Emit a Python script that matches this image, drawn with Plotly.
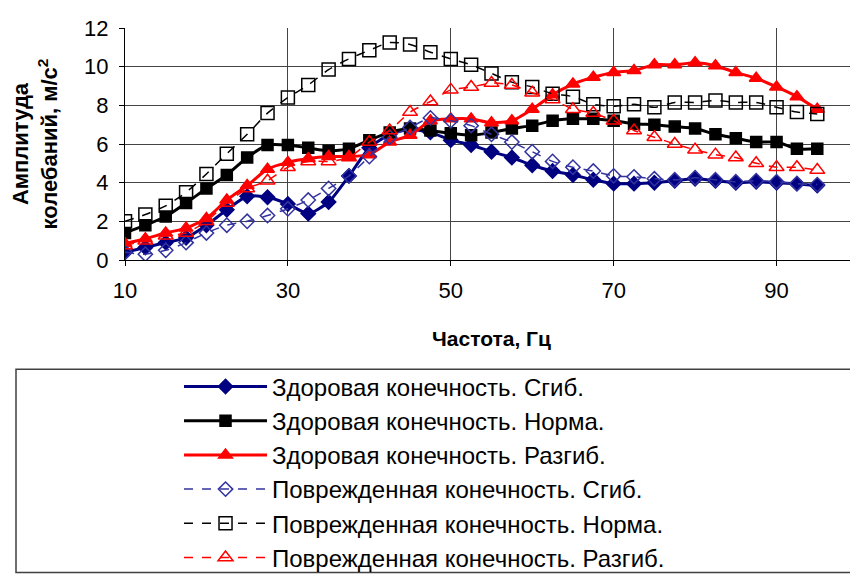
import plotly.graph_objects as go

freq = [10, 12.5, 15, 17.5, 20, 22.5, 25, 27.5, 30, 32.5, 35, 37.5, 40, 42.5, 45, 47.5,
        50, 52.5, 55, 57.5, 60, 62.5, 65, 67.5, 70, 72.5, 75, 77.5, 80, 82.5, 85, 87.5,
        90, 92.5, 95]

healthy_flex = [0.4, 0.65, 0.9, 1.15, 1.8, 2.6, 3.3, 3.25, 2.9, 2.4, 3.0, 4.35, 5.8, 6.5,
                6.75, 6.6, 6.2, 5.95, 5.6, 5.3, 4.9, 4.6, 4.4, 4.15, 3.95, 3.95, 4.0, 4.1,
                4.2, 4.1, 4.0, 4.05, 4.0, 3.95, 3.85]
healthy_norm = [1.4, 1.8, 2.25, 2.95, 3.7, 4.4, 5.3, 5.95, 5.95, 5.8, 5.65, 5.75, 6.2, 6.6,
                6.8, 6.7, 6.55, 6.45, 6.6, 6.8, 6.95, 7.2, 7.3, 7.3, 7.2, 7.05, 7.0, 6.9,
                6.8, 6.5, 6.3, 6.1, 6.1, 5.75, 5.75]
healthy_ext = [0.85, 1.1, 1.4, 1.65, 2.15, 3.1, 3.85, 4.7, 5.05, 5.25, 5.35, 5.35, 5.45,
               6.1, 6.45, 7.2, 7.3, 7.3, 7.1, 7.2, 7.8, 8.55, 9.1, 9.45, 9.7, 9.8, 10.1,
               10.1, 10.2, 10.05, 9.7, 9.4, 8.95, 8.45, 7.8]
damaged_flex = [0.4, 0.3, 0.5, 0.9, 1.4, 1.8, 2.0, 2.3, 2.65, 3.1, 3.7, 4.35, 5.35, 6.35,
                6.85, 7.35, 7.2, 6.95, 6.5, 6.1, 5.6, 5.1, 4.8, 4.6, 4.35, 4.3, 4.2, 4.15,
                4.25, 4.15, 4.05, 4.1, 4.05, 3.95, 3.9]
damaged_norm = [2.0, 2.35, 2.8, 3.5, 4.45, 5.5, 6.5, 7.6, 8.4, 9.05, 9.85, 10.4, 10.85,
                11.25, 11.15, 10.75, 10.4, 10.1, 9.65, 9.2, 8.95, 8.6, 8.45, 8.05, 7.95,
                8.05, 7.9, 8.15, 8.15, 8.25, 8.15, 8.15, 7.9, 7.65, 7.55]
damaged_ext = [0.75, 1.0, 1.25, 1.4, 2.0, 2.95, 3.7, 4.1, 4.8, 5.1, 5.1, 5.3, 6.1, 6.7,
               7.65, 8.2, 8.8, 8.95, 9.15, 9.05, 8.65, 8.3, 7.8, 7.6, 7.2, 6.7, 6.35, 6.0,
               5.7, 5.45, 5.3, 5.0, 4.8, 4.8, 4.65]

names = ["Здоровая конечность. Сгиб.", "Здоровая конечность. Норма.",
         "Здоровая конечность. Разгиб.", "Поврежденная конечность. Сгиб.",
         "Поврежденная конечность. Норма.", "Поврежденная конечность. Разгиб."]

x_ticks = [10, 30, 50, 70, 90]
y_ticks = [0, 2, 4, 6, 8, 10, 12]

series = [
    (healthy_flex, "#000080", "solid", 3, "diamond", 11),
    (healthy_norm, "#000000", "solid", 3, "square", 11),
    (healthy_ext, "#ff0000", "solid", 3, "triangle-up", 12),
    (damaged_flex, "#3333a0", "dash", 1.5, "diamond-open", 11),
    (damaged_norm, "#000000", "dash", 1.5, "square-open", 13),
    (damaged_ext, "#ff0000", "dash", 1.5, "triangle-up-open", 13),
]

fig = go.Figure()
for i, (vals, col, dash, w, sym, sz) in enumerate(series):
    fig.add_trace(go.Scatter(
        x=freq, y=vals, name=names[i], mode="lines+markers",
        line=dict(color=col, width=w, dash=dash, shape="spline", smoothing=0.6),
        marker=dict(symbol=sym, size=sz, color=col,
                    line=dict(color=col, width=1.5)),
    ))

# legend frame spanning the figure width
fig.add_shape(type="rect", xref="paper", yref="paper",
              x0=-0.1487, x1=1.0136, y0=-1.347, y1=-0.4706,
              line=dict(color="#404040", width=1.5), fillcolor="rgba(0,0,0,0)")

fig.update_layout(
    width=858, height=580,
    margin=dict(l=117, r=8, t=20, b=322),
    paper_bgcolor="white", plot_bgcolor="white",
    font=dict(family="Liberation Sans, Arial, sans-serif", color="black"),
    showlegend=True,
    legend=dict(
        x=0.0737, y=-0.45, xanchor="left", yanchor="top",
        font=dict(family="Liberation Sans, Arial, sans-serif", size=24),
        itemwidth=83, bgcolor="rgba(0,0,0,0)",
    ),
    xaxis=dict(
        range=[10, 100], tickvals=x_ticks, ticktext=[str(v) for v in x_ticks],
        showgrid=True, gridcolor="#444444", gridwidth=1,
        showline=True, linecolor="black", linewidth=1,
        ticks="outside", ticklen=5, tickcolor="black",
        tickfont=dict(size=22), ticklabelstandoff=6,
        zeroline=False,
        title=dict(text="<b>Частота, Гц</b>", font=dict(size=21), standoff=28),
    ),
    yaxis=dict(
        range=[0, 12], tickvals=y_ticks,
        showgrid=True, gridcolor="#444444", gridwidth=1,
        showline=True, linecolor="black", linewidth=1,
        ticks="outside", ticklen=5, tickcolor="black",
        tickfont=dict(size=22), ticklabelstandoff=6,
        zeroline=False,
        title=dict(text="<b>Амплитуда<br>колебаний, м/с<sup>2</sup></b>",
                   font=dict(size=22), standoff=20),
    ),
)

fig.write_html("out.html")
